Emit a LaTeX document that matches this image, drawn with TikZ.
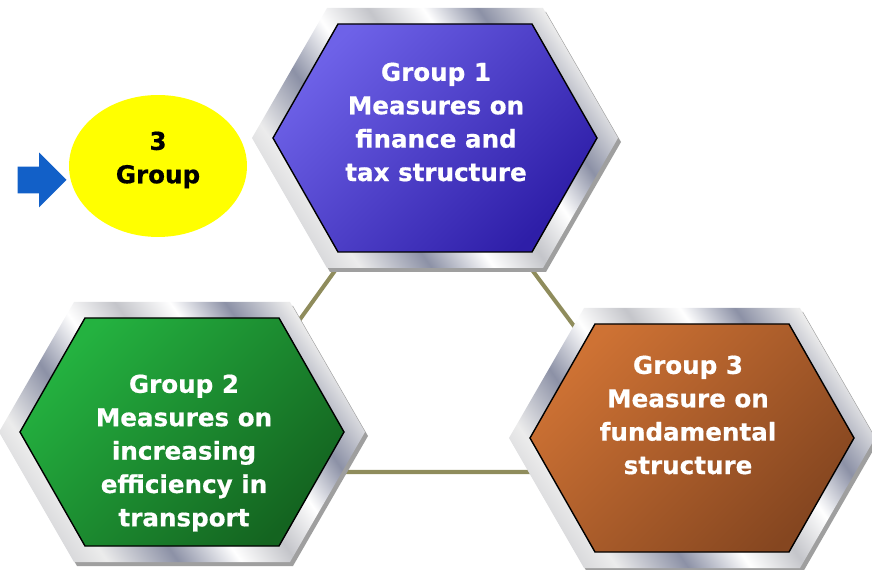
\documentclass[tikz,border=0pt]{standalone}
\usepackage{fontspec}
\setmainfont{DejaVu Sans}[BoldFeatures={FakeBold=0.6}]
\usepackage{xcolor}
\usepackage{tikz}
\usetikzlibrary{shapes,arrows,positioning}
\definecolor{lineolive}{RGB}{143,140,92}
\definecolor{metaldark}{RGB}{140,145,166}
\definecolor{metallight}{RGB}{196,197,202}
\definecolor{arrowblue}{RGB}{18,96,200}
\definecolor{bubbleyellow}{RGB}{255,255,0}
\definecolor{blueA}{RGB}{110,98,232}
\definecolor{blueB}{RGB}{46,30,168}
\definecolor{greenA}{RGB}{36,178,64}
\definecolor{greenB}{RGB}{20,100,32}
\definecolor{brownA}{RGB}{206,114,52}
\definecolor{brownB}{RGB}{133,70,32}
\pgfdeclarehorizontalshading{metal}{100bp}{color(0bp)=(metallight); color(20bp)=(metallight); color(29bp)=(white!85!gray); color(38bp)=(metaldark); color(46bp)=(white); color(53bp)=(metallight); color(60bp)=(white); color(67bp)=(metaldark); color(75bp)=(white!85!gray); color(82bp)=(metallight); color(100bp)=(metallight)}

% silver frame, shadow and coloured face of one hexagon
\newcommand{\hexframe}[3]{%
  \begin{scope}[shift={#1}]
    \fill[gray!75] (-180,4) -- (-105,-126) -- (111,-126) -- (186,4) -- (111,134) -- (-105,134) -- cycle;
    \shade[shading=metal, shading angle=35] (-183,0) -- (-108,-130) -- (108,-130) -- (183,0) -- (108,130) -- (-108,130) -- cycle;
    \shade[draw=black, line width=0.8pt, top color=#2, bottom color=#3, shading angle=45] (-162,0) -- (-97,-114) -- (97,-114) -- (162,0) -- (97,114) -- (-97,114) -- cycle;
  \end{scope}}

\begin{document}
\begin{tikzpicture}[
    x=0.02cm, y=-0.02cm,
    hexlabel/.style={align=center, text=white, font=\fontsize{14}{19}\selectfont\bfseries},
    link/.style={lineolive, line width=2.3pt},
    bubble/.style={ellipse, fill=bubbleyellow, minimum width=3.56cm, minimum height=2.84cm, inner sep=0pt},
    bubbletext/.style={align=center, font=\fontsize{14}{19}\selectfont\bfseries},
    pointer/.style={single arrow, fill=arrowblue, minimum height=0.98cm, minimum width=1.08cm, inner sep=0.26cm, single arrow head extend=0.28cm}
  ]
  \useasboundingbox (0,0) rectangle (872,570);
  \clip (0,0) rectangle (872,570);

  % triangle behind the hexagons
  \coordinate (hub1) at (432,136);
  \coordinate (hub2) at (190,472);
  \coordinate (hub3) at (683,472);
  \draw[link] (hub1) -- (hub2) -- (hub3) -- cycle;

  % the three groups
  \hexframe{(435,138)}{blueA}{blueB}
  \hexframe{(182,432)}{greenA}{greenB}
  \hexframe{(692,438)}{brownA}{brownB}
  \node[hexlabel] (group1) at (436,122) {Group 1\\Measures on\\finance and\\tax structure};
  \node[hexlabel] (group2) at (184,453) {Group 2\\Measures on\\increasing\\efficiency in\\transport};
  \node[hexlabel] (group3) at (688,415) {Group 3\\Measure on\\fundamental\\structure};

  % marker on the left
  \node[bubble] (groups) at (158,166) {};
  \node[bubbletext] (groupstext) at (158,160) {3\\Group};
  \node[pointer, anchor=tip] (marker) at (67,180) {};
\end{tikzpicture}
\end{document}
